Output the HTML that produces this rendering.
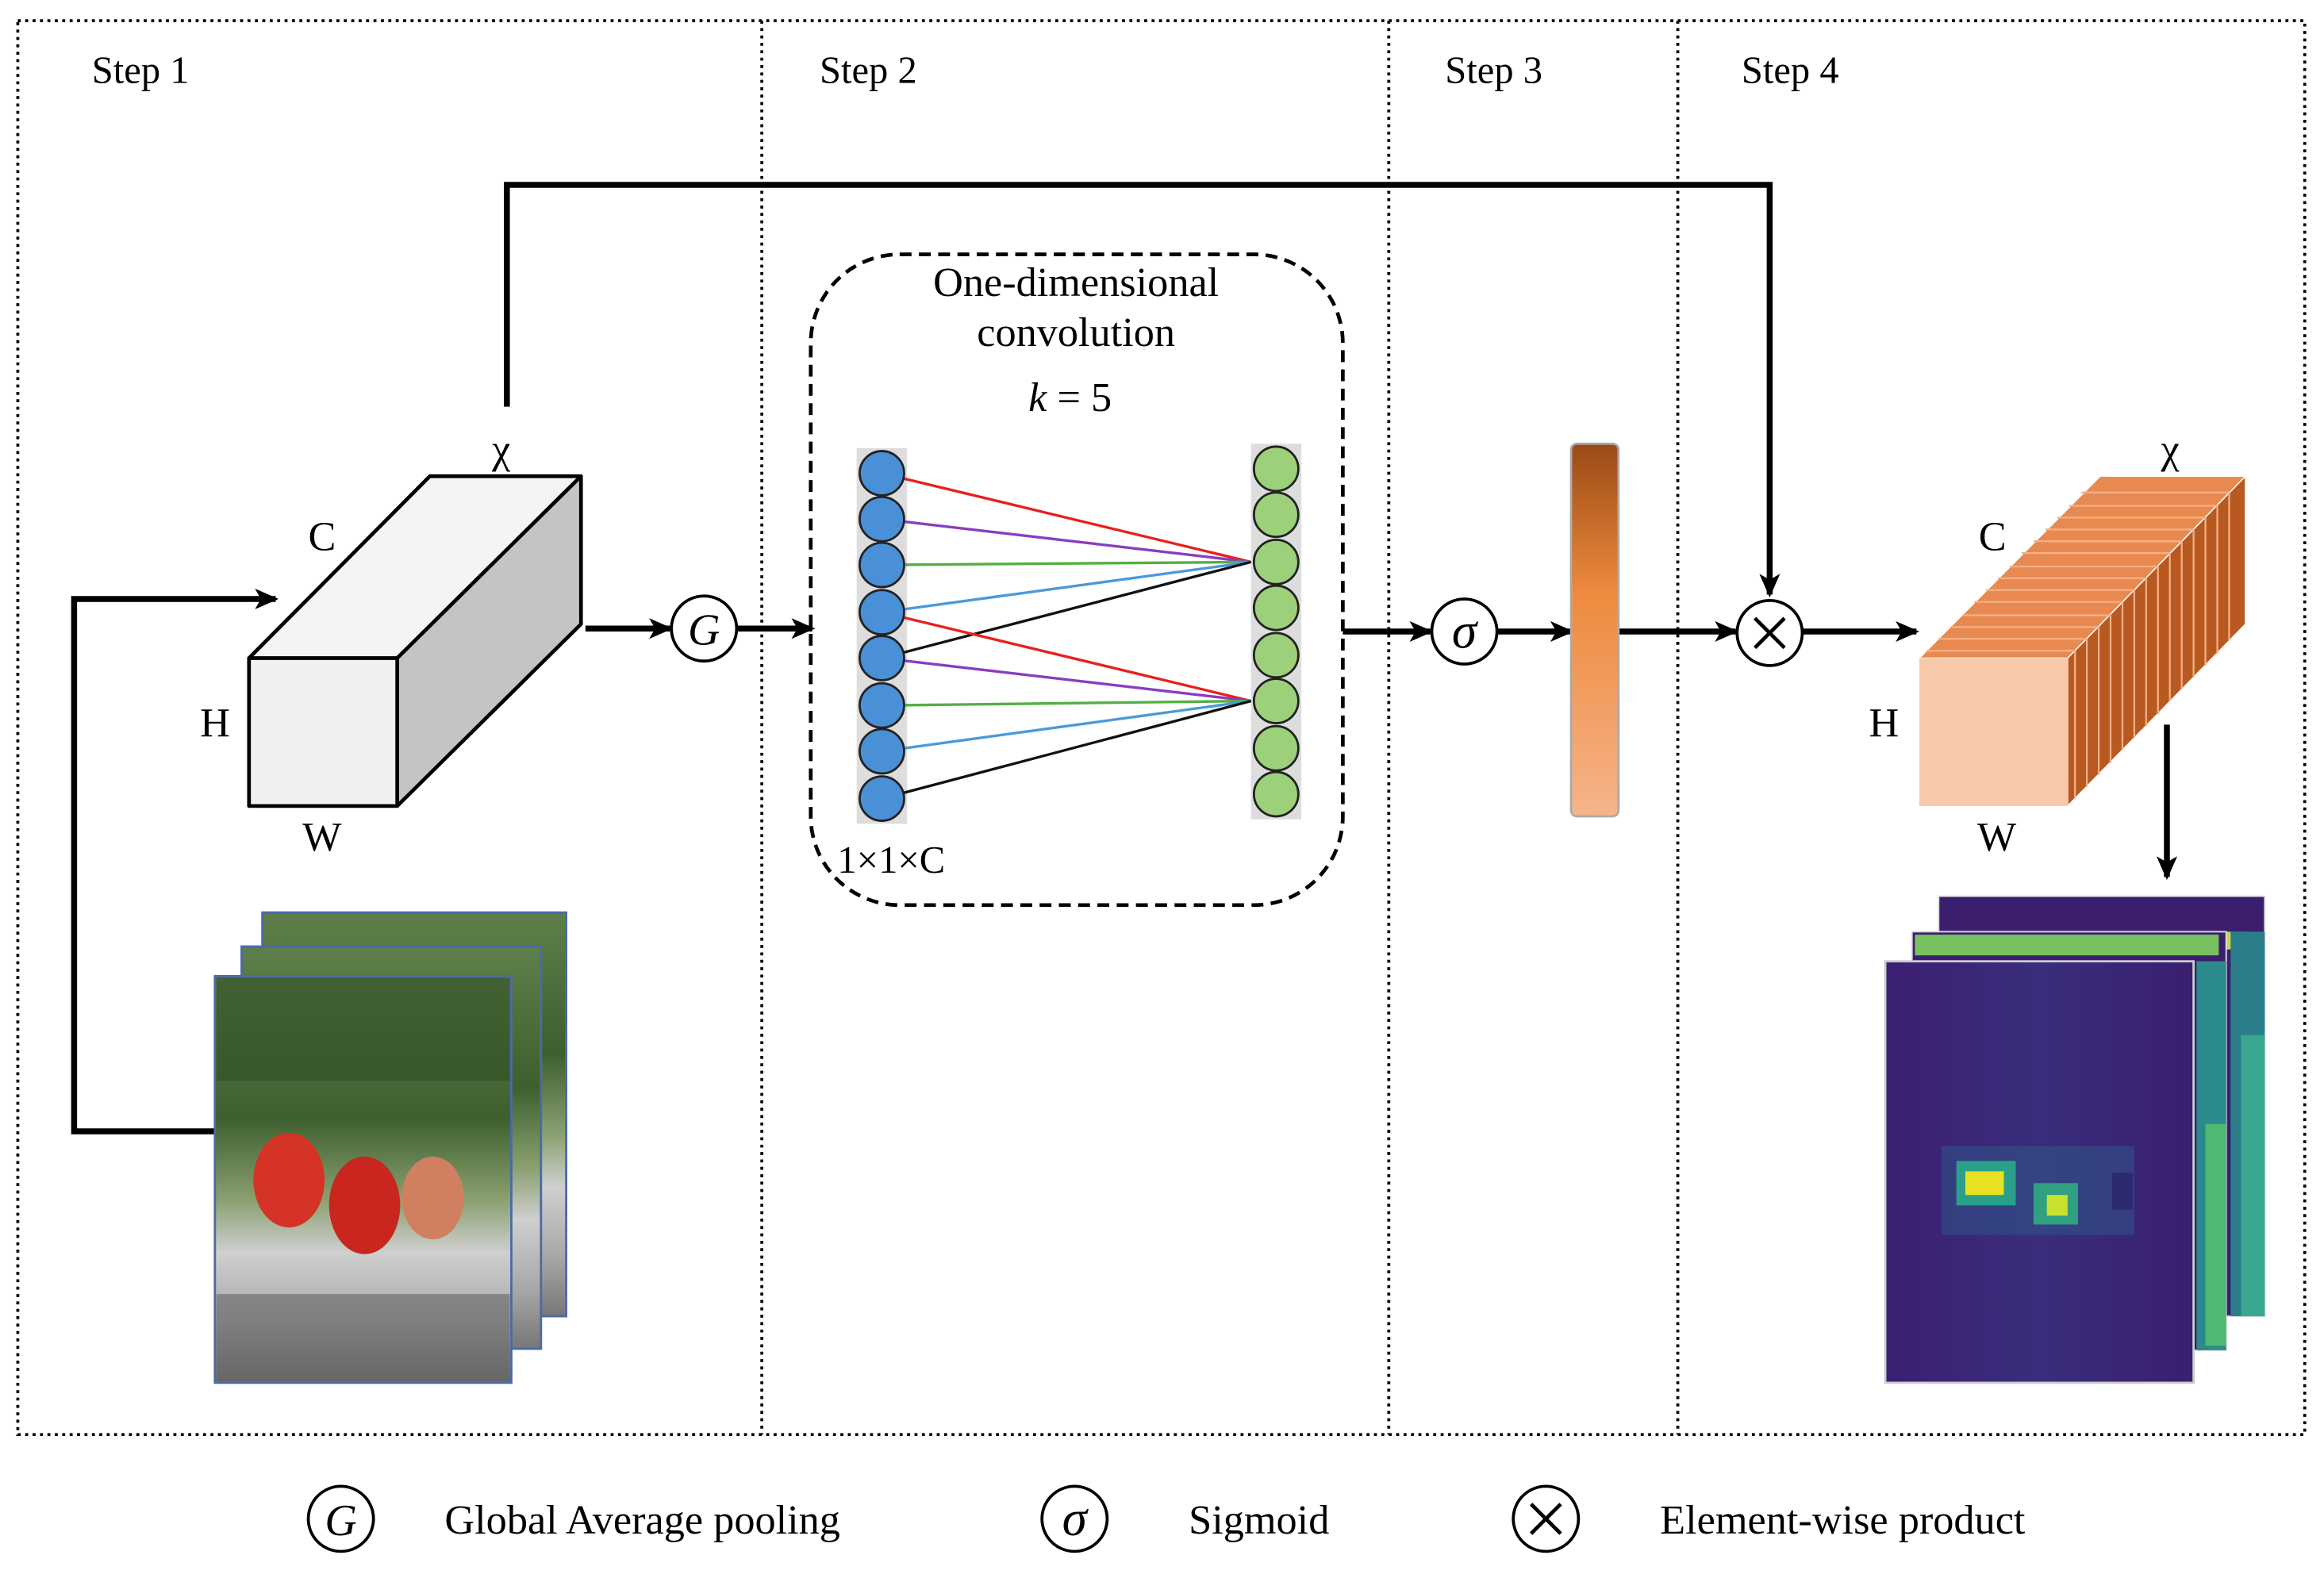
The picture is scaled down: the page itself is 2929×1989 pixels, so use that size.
<!DOCTYPE html>
<html><head><meta charset="utf-8"><style>html,body{margin:0;padding:0;background:#fff}svg{display:block}</style></head>
<body>
<svg width="2929" height="1989" viewBox="0 0 1568 1067" preserveAspectRatio="none" xmlns="http://www.w3.org/2000/svg" font-family="'Liberation Serif', serif">
<defs>
<marker id="ar2" markerWidth="16" markerHeight="14" refX="14" refY="7" orient="auto" markerUnits="userSpaceOnUse"><path d="M0,0 L16,7 L0,14 L4,7 z" fill="#000"/></marker>
<linearGradient id="bar" x1="0" y1="0" x2="0" y2="1"><stop offset="0" stop-color="#9a4a15"/><stop offset="0.4" stop-color="#ee8a3e"/><stop offset="1" stop-color="#f6b48a"/></linearGradient>
<linearGradient id="photo" x1="0" y1="0" x2="0" y2="1"><stop offset="0" stop-color="#5f7f4a"/><stop offset="0.35" stop-color="#3e5f2e"/><stop offset="0.55" stop-color="#8aa070"/><stop offset="0.68" stop-color="#cfcfcf"/><stop offset="0.85" stop-color="#a8a8a8"/><stop offset="1" stop-color="#777"/></linearGradient>
<linearGradient id="heat" x1="0" y1="0" x2="1" y2="0"><stop offset="0" stop-color="#3c1f73"/><stop offset="0.5" stop-color="#3a2d7c"/><stop offset="1" stop-color="#3b1f70"/></linearGradient>
</defs>

<rect x="12" y="14" width="1543" height="956" fill="none" stroke="#000" stroke-width="2" stroke-dasharray="2,3"/>
<g stroke="#000" stroke-width="2" stroke-dasharray="2,3">
<line x1="514" y1="14" x2="514" y2="970"/><line x1="937" y1="14" x2="937" y2="970"/><line x1="1132" y1="14" x2="1132" y2="970"/>
</g>
<g font-size="26" fill="#000">
<text x="62" y="56">Step 1</text><text x="553" y="56">Step 2</text><text x="975" y="56">Step 3</text><text x="1175" y="56">Step 4</text>
</g>

<g stroke="#000" stroke-width="4" fill="none">
<polyline points="342,275 342,125 1194,125 1194,402" marker-end="url(#ar2)"/>
<polyline points="145,765 50,765 50,405 186,405" marker-end="url(#ar2)"/>
<line x1="395" y1="425" x2="452" y2="425" marker-end="url(#ar2)"/>
<line x1="497" y1="425" x2="548" y2="425" marker-end="url(#ar2)"/>
<line x1="906" y1="427" x2="965" y2="427" marker-end="url(#ar2)"/>
<line x1="1010" y1="427" x2="1060" y2="427" marker-end="url(#ar2)"/>
<line x1="1092" y1="427" x2="1171" y2="427" marker-end="url(#ar2)"/>
<line x1="1216" y1="427" x2="1293" y2="427" marker-end="url(#ar2)"/>
<line x1="1462" y1="490" x2="1462" y2="593" marker-end="url(#ar2)"/>
</g>

<g stroke="#000" stroke-width="2.5" stroke-linejoin="round">
<polygon points="168,445 290,322 392,322 268,445" fill="#f4f4f4"/>
<polygon points="268,445 392,322 392,422 268,545" fill="#c4c4c4"/>
<rect x="168" y="445" width="100" height="100" fill="#f0f0f0"/>
</g>
<g font-size="28"><text x="332" y="313">χ</text><text x="208" y="372">C</text><text x="135" y="498">H</text><text x="204" y="575">W</text></g>

<g stroke="#000" stroke-width="2" fill="#fff">
<circle cx="475" cy="425" r="22"/><circle cx="988" cy="427" r="22"/><circle cx="1194" cy="428" r="22"/>
</g>
<text x="475" y="436" font-size="30" font-style="italic" text-anchor="middle">G</text>
<text x="988" y="438" font-size="34" font-style="italic" text-anchor="middle">σ</text>
<g stroke="#000" stroke-width="2.5"><line x1="1184" y1="418" x2="1204" y2="438"/><line x1="1204" y1="418" x2="1184" y2="438"/></g>

<rect x="547" y="172" width="359" height="440" rx="60" fill="none" stroke="#000" stroke-width="2.5" stroke-dasharray="8,5"/>
<g font-size="28" text-anchor="middle"><text x="726" y="200">One-dimensional</text><text x="726" y="234">convolution</text><text x="722" y="278"><tspan font-style="italic">k</tspan> = 5</text></g>
<text x="565" y="590" font-size="26">1×1×C</text>
<rect x="578" y="303" width="34" height="254" fill="#ddd"/>
<rect x="844" y="300" width="34" height="254" fill="#ddd"/>
<g stroke-width="1.8" fill="none">
<line x1="595" y1="320" x2="844" y2="380" stroke="#e8201e"/>
<line x1="595" y1="351" x2="844" y2="380" stroke="#8a3cc0"/>
<line x1="595" y1="382" x2="844" y2="380" stroke="#52b040"/>
<line x1="595" y1="414" x2="844" y2="380" stroke="#4a9ad8"/>
<line x1="595" y1="445" x2="844" y2="380" stroke="#111"/>
<line x1="595" y1="414" x2="844" y2="474" stroke="#e8201e"/>
<line x1="595" y1="445" x2="844" y2="474" stroke="#8a3cc0"/>
<line x1="595" y1="477" x2="844" y2="474" stroke="#52b040"/>
<line x1="595" y1="508" x2="844" y2="474" stroke="#4a9ad8"/>
<line x1="595" y1="540" x2="844" y2="474" stroke="#111"/>
</g>
<g stroke="#222" stroke-width="1.5" fill="#4a90d6">
<circle cx="595" cy="320" r="15"/><circle cx="595" cy="351" r="15"/><circle cx="595" cy="382" r="15"/><circle cx="595" cy="414" r="15"/><circle cx="595" cy="445" r="15"/><circle cx="595" cy="477" r="15"/><circle cx="595" cy="508" r="15"/><circle cx="595" cy="540" r="15"/>
</g>
<g stroke="#222" stroke-width="1.5" fill="#9cd07a">
<circle cx="861" cy="317" r="15"/><circle cx="861" cy="348" r="15"/><circle cx="861" cy="380" r="15"/><circle cx="861" cy="411" r="15"/><circle cx="861" cy="443" r="15"/><circle cx="861" cy="474" r="15"/><circle cx="861" cy="506" r="15"/><circle cx="861" cy="537" r="15"/>
</g>

<rect x="1060" y="300" width="32" height="252" rx="4" fill="url(#bar)" stroke="#aaa" stroke-width="1.5"/>

<g stroke="#fff" stroke-width="0.8">
<polygon points="1395,445 1515,322 1515,422 1395,545" fill="#b85a20"/>
<polygon points="1295,445 1417,322 1515,322 1395,445" fill="#e88a50"/>
</g>
<g stroke="#f5b088" stroke-width="1.2" fill="none">
<line x1="1400" y1="440" x2="1400" y2="540"/><line x1="1408" y1="432" x2="1408" y2="532"/><line x1="1416" y1="424" x2="1416" y2="524"/><line x1="1424" y1="416" x2="1424" y2="516"/><line x1="1432" y1="407" x2="1432" y2="507"/><line x1="1440" y1="399" x2="1440" y2="499"/><line x1="1448" y1="391" x2="1448" y2="491"/><line x1="1456" y1="383" x2="1456" y2="483"/><line x1="1464" y1="374" x2="1464" y2="474"/><line x1="1472" y1="366" x2="1472" y2="466"/><line x1="1480" y1="358" x2="1480" y2="458"/><line x1="1488" y1="350" x2="1488" y2="450"/><line x1="1496" y1="342" x2="1496" y2="442"/><line x1="1504" y1="333" x2="1504" y2="433"/>
<line x1="1300" y1="440" x2="1400" y2="440"/><line x1="1308" y1="432" x2="1408" y2="432"/><line x1="1316" y1="424" x2="1416" y2="424"/><line x1="1324" y1="416" x2="1424" y2="416"/><line x1="1332" y1="407" x2="1432" y2="407"/><line x1="1340" y1="399" x2="1440" y2="399"/><line x1="1348" y1="391" x2="1448" y2="391"/><line x1="1356" y1="383" x2="1456" y2="383"/><line x1="1364" y1="374" x2="1464" y2="374"/><line x1="1372" y1="366" x2="1472" y2="366"/><line x1="1380" y1="358" x2="1480" y2="358"/><line x1="1388" y1="350" x2="1488" y2="350"/><line x1="1396" y1="342" x2="1496" y2="342"/><line x1="1404" y1="333" x2="1504" y2="333"/>
</g>
<rect x="1295" y="445" width="100" height="100" fill="#f8c9a8"/>
<g font-size="28"><text x="1458" y="313">χ</text><text x="1335" y="372">C</text><text x="1261" y="498">H</text><text x="1334" y="575">W</text></g>

<g stroke="#4a6aa8" stroke-width="1.5">
<rect x="177" y="617" width="205" height="273" fill="url(#photo)"/>
<rect x="163" y="640" width="202" height="272" fill="url(#photo)"/>
<rect x="145" y="660" width="200" height="275" fill="url(#photo)"/>
</g>
<rect x="146" y="661" width="198" height="70" fill="#2f4f25" opacity="0.6"/>
<ellipse cx="195" cy="798" rx="24" ry="32" fill="#d43326"/>
<ellipse cx="246" cy="815" rx="24" ry="33" fill="#c8261e"/>
<ellipse cx="292" cy="810" rx="21" ry="28" fill="#d08060"/>
<rect x="146" y="875" width="198" height="59" fill="#555" opacity="0.5"/>

<!-- heatmaps -->
<rect x="1308" y="606" width="220" height="284" fill="#3b1f6e" stroke="#ddd"/>
<rect x="1310" y="630" width="210" height="12" fill="#c8d840"/>
<rect x="1505" y="630" width="23" height="260" fill="#2a7e8a"/>
<rect x="1512" y="700" width="16" height="190" fill="#3aa890"/>
<rect x="1290" y="630" width="212" height="283" fill="#3b1f6e" stroke="#ddd"/>
<rect x="1292" y="632" width="205" height="14" fill="#78c060"/>
<rect x="1482" y="650" width="20" height="263" fill="#2a8a8c"/>
<rect x="1488" y="760" width="14" height="150" fill="#50b870"/>
<rect x="1272" y="650" width="208" height="285" fill="url(#heat)" stroke="#ccc" stroke-width="1.5"/>
<rect x="1310" y="775" width="130" height="60" fill="#2e5a8a" opacity="0.5"/>
<rect x="1320" y="785" width="40" height="30" fill="#2aa08a"/>
<rect x="1326" y="792" width="26" height="16" fill="#e8e020"/>
<rect x="1372" y="800" width="30" height="28" fill="#30a080"/>
<rect x="1381" y="808" width="14" height="14" fill="#c8e030"/>
<rect x="1425" y="793" width="14" height="25" fill="#2c2a70"/>

<g stroke="#000" stroke-width="2" fill="#fff">
<circle cx="230" cy="1027" r="22"/><circle cx="725" cy="1027" r="22"/><circle cx="1043" cy="1027" r="22"/>
</g>
<text x="230" y="1038" font-size="30" font-style="italic" text-anchor="middle">G</text>
<text x="725" y="1038" font-size="34" font-style="italic" text-anchor="middle">σ</text>
<g stroke="#000" stroke-width="2.5"><line x1="1033" y1="1017" x2="1053" y2="1037"/><line x1="1053" y1="1017" x2="1033" y2="1037"/></g>
<g font-size="28"><text x="300" y="1037">Global Average pooling</text><text x="802" y="1037">Sigmoid</text><text x="1120" y="1037">Element-wise product</text></g>
</svg>
</body></html>
